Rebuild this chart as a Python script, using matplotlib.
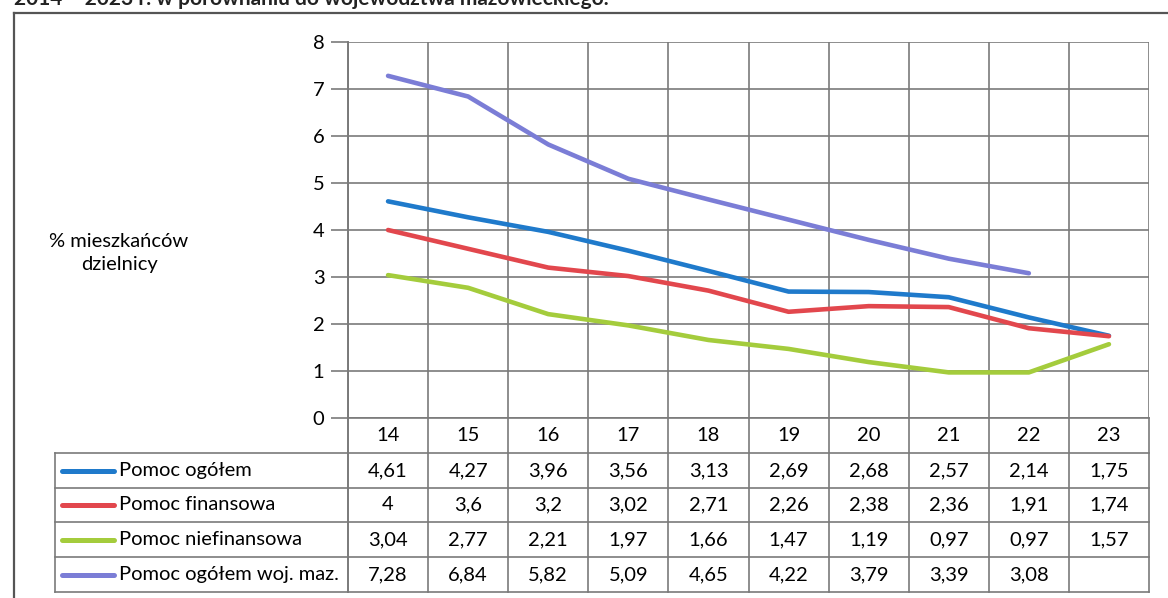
import matplotlib
matplotlib.use("Agg")
import matplotlib.pyplot as plt
from matplotlib.transforms import blended_transform_factory
from matplotlib.lines import Line2D

years = ["14", "15", "16", "17", "18", "19", "20", "21", "22", "23"]
series_names = ["Pomoc ogółem", "Pomoc finansowa", "Pomoc niefinansowa", "Pomoc ogółem woj. maz."]
pomoc_ogolem = [4.61, 4.27, 3.96, 3.56, 3.13, 2.69, 2.68, 2.57, 2.14, 1.75]
pomoc_finansowa = [4.00, 3.60, 3.20, 3.02, 2.71, 2.26, 2.38, 2.36, 1.91, 1.74]
pomoc_niefinansowa = [3.04, 2.77, 2.21, 1.97, 1.66, 1.47, 1.19, 0.97, 0.97, 1.57]
pomoc_woj_maz = [7.28, 6.84, 5.82, 5.09, 4.65, 4.22, 3.79, 3.39, 3.08, None]
y_ticks = [0, 1, 2, 3, 4, 5, 6, 7, 8]
y_label = "% mieszkańców\ndzielnicy"
caption = "2014 – 2023 r. w porównaniu do województwa mazowieckiego."

series = [pomoc_ogolem, pomoc_finansowa, pomoc_niefinansowa, pomoc_woj_maz]
colors = ["#1f7acb", "#e2474d", "#a4cc3c", "#7b7dd6"]

FONT = ["Lato", "DejaVu Sans"]
plt.rcParams["font.family"] = FONT
FS = 14.5

W, H = 1168, 598
fig = plt.figure(figsize=(W / 100, H / 100), dpi=100)

def fx(px):
    return px / W

def fy(py):
    return 1 - py / H

ax_left, ax_right, ax_top, ax_bottom = 348, 1149, 42, 418
ax = fig.add_axes([fx(ax_left), fy(ax_bottom), fx(ax_right - ax_left), (ax_bottom - ax_top) / H])

n = len(years)
xs = list(range(n))
for vals, c in zip(series, colors):
    px = [x for x, v in zip(xs, vals) if v is not None]
    py = [v for v in vals if v is not None]
    ax.plot(px, py, color=c, lw=3.3, solid_joinstyle="round", solid_capstyle="round", zorder=3)

ax.set_xlim(-0.5, n - 0.5)
ax.set_ylim(0, 8)
ax.set_yticks(y_ticks)
ax.set_yticklabels([str(t) for t in y_ticks], fontsize=FS)
ax.set_xticks([i - 0.5 for i in range(n + 1)])
ax.set_xticklabels([])
grid_c = "#7a7a7a"
ax.grid(True, color=grid_c, lw=1.2)
ax.tick_params(axis="y", length=12, width=1.2, color=grid_c, pad=5, direction="out")
ax.tick_params(axis="x", length=0)
for s in ["top", "right"]:
    ax.spines[s].set_visible(False)
ax.spines["left"].set_color(grid_c)
ax.spines["left"].set_linewidth(1.4)
ax.spines["bottom"].set_color(grid_c)
ax.spines["bottom"].set_linewidth(1.2)

# table rows (pixel y positions)
row_lines = [418, 453, 488, 522, 557, 592]
ax_h = ax_bottom - ax_top

def ay(py):
    return -(py - ax_bottom) / ax_h

bt = blended_transform_factory(ax.transData, ax.transAxes)
for i in range(n + 1):
    ax.add_line(Line2D([i - 0.5, i - 0.5], [0, ay(row_lines[-1])], transform=bt,
                       color=grid_c, lw=1.4 if i == 0 else 1.2, clip_on=False))
tab_left = 55
for py in row_lines[1:]:
    fig.add_artist(Line2D([fx(tab_left), fx(ax_right)], [fy(py), fy(py)],
                          transform=fig.transFigure, color=grid_c, lw=1.2))
fig.add_artist(Line2D([fx(tab_left), fx(tab_left)], [fy(row_lines[1]), fy(row_lines[-1])],
                      transform=fig.transFigure, color=grid_c, lw=1.2))

hy = (row_lines[0] + row_lines[1]) / 2
for i, yr in enumerate(years):
    ax.text(i, ay(hy), yr, transform=bt, ha="center", va="center", fontsize=FS, clip_on=False)

for r, (vals, name, c) in enumerate(zip(series, series_names, colors)):
    cy = (row_lines[r + 1] + row_lines[r + 2]) / 2
    for i, v in enumerate(vals):
        if v is None:
            continue
        txt = ("%.2f" % v).rstrip("0").rstrip(".").replace(".", ",")
        ax.text(i, ay(cy), txt, transform=bt, ha="center", va="center", fontsize=FS, clip_on=False)
    fig.add_artist(Line2D([fx(62), fx(114)], [fy(cy), fy(cy)], transform=fig.transFigure,
                          color=c, lw=3.6, solid_capstyle="round"))
    fig.text(fx(119), fy(cy), name, ha="left", va="center", fontsize=FS)

fig.text(fx(119), fy(253), y_label, ha="center", va="center", fontsize=FS, linespacing=1.45)

fig.add_artist(Line2D([fx(14), fx(14)], [fy(13), 0], transform=fig.transFigure, color="#555555", lw=1.6))
fig.add_artist(Line2D([fx(14), 1], [fy(13), fy(13)], transform=fig.transFigure, color="#555555", lw=1.6))

fig.text(fx(14), fy(-1), caption, ha="left", va="center", fontsize=15, fontweight="bold", color="#222222")

fig.savefig("out.png", dpi=100)
